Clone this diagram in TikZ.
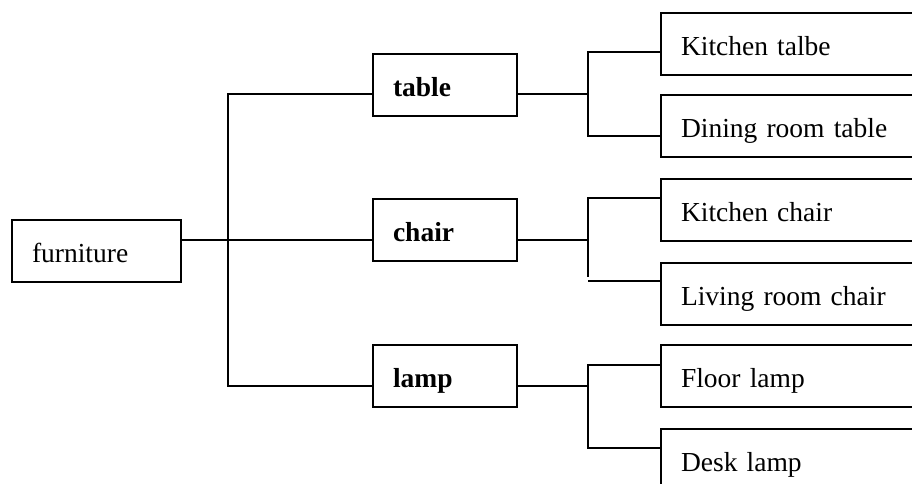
\documentclass[tikz,border=0pt]{standalone}
\usepackage{fontspec}
\setmainfont{Liberation Serif}
\begin{document}
\begin{tikzpicture}[x=1pt,y=-1pt,
  box/.style={draw, line width=2pt, rectangle, anchor=north west, align=left,
    inner xsep=20pt, inner ysep=0pt, minimum height=62pt, text height=22pt, text depth=0pt,
    font=\fontsize{27.5pt}{33pt}\selectfont},
  leftbox/.style={box, text width=129pt},
  midbox/.style={box, text width=104pt, font=\fontsize{27.5pt}{33pt}\selectfont\bfseries},
  rightbox/.style={box, text width=260pt},
  conn/.style={line width=1.7pt}]
\useasboundingbox (0,0) rectangle (912,483);
\clip (0,0) rectangle (912,483);
\fill[white] (0,0) rectangle (912,483);

\node[leftbox] (furniture) at (11,219) {furniture};
\node[midbox] (table) at (372,53) {table};
\node[midbox] (chair) at (372,198) {chair};
\node[midbox] (lamp) at (372,344) {lamp};
\node[rightbox] (ktable) at (660,12) {Kitchen talbe};
\node[rightbox] (dtable) at (660,94) {Dining room table};
\node[rightbox] (kchair) at (660,178) {Kitchen chair};
\node[rightbox] (lchair) at (660,262) {Living room chair};
\node[rightbox] (flamp) at (660,344) {Floor lamp};
\node[rightbox] (dlamp) at (660,428) {Desk lamp};

% level coordinates
\coordinate (trunk) at (228,240);
\coordinate (yt) at (0,94);
\coordinate (yl) at (0,386);
\coordinate (rt) at (588,94);
\coordinate (rc) at (588,240);
\coordinate (rcb) at (588,277);
\coordinate (rl) at (588,386);
\coordinate (y52) at (0,52);
\coordinate (y136) at (0,136);
\coordinate (y198) at (0,198);
\coordinate (y281) at (0,281);
\coordinate (y365) at (0,365);
\coordinate (y448) at (0,448);

% left tree
\draw[conn] (furniture.east |- trunk) -- (chair.west |- trunk);
\draw[conn] (table.west |- yt) -| (trunk) |- (lamp.west |- yl);

% table group
\draw[conn] (table.east |- yt) -- (rt);
\draw[conn] (ktable.west |- y52) -| (rt) |- (dtable.west |- y136);

% chair group
\draw[conn] (chair.east |- trunk) -- (rc);
\draw[conn] (kchair.west |- y198) -| (rcb);
\draw[conn] (rcb |- y281) -- (lchair.west |- y281);

% lamp group
\draw[conn] (lamp.east |- yl) -- (rl);
\draw[conn] (flamp.west |- y365) -| (rl) |- (dlamp.west |- y448);
\end{tikzpicture}
\end{document}
